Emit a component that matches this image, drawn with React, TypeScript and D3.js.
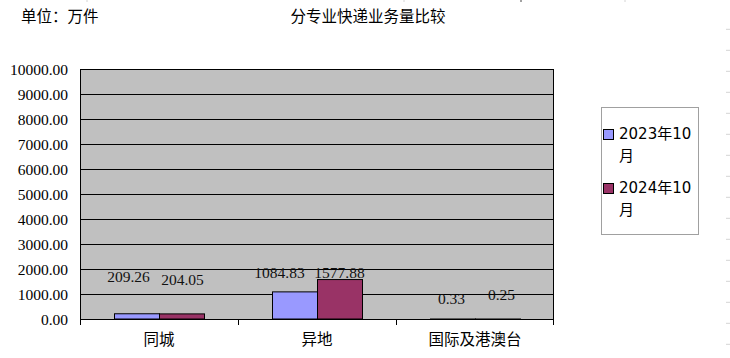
import React from "react";
import * as d3 from "d3";

const categories = ["同城", "异地", "国际及港澳台"];
const seriesNames = ["2023年10月", "2024年10月"];
const values2023 = [209.26, 1084.83, 0.33];
const values2024 = [204.05, 1577.88, 0.25];
const seriesColors = ["#9999FF", "#993366"];
const yTicks = [0, 1000, 2000, 3000, 4000, 5000, 6000, 7000, 8000, 9000, 10000];
// manual label nudges (dx, dy) relative to each bar's top-centre, as in the source sheet
const labelOffsets2023 = [[-8, -37], [-15, -19], [-1, -20]];
const labelOffsets2024 = [[1, -34], [0, -7], [4, -24]];

const W = 730, H = 358;
const plot = { left: 80, top: 69, right: 554, bottom: 319 };
const serif = "'Liberation Serif', 'Times New Roman', serif";
const cjk = "'Noto Sans CJK SC', sans-serif";

export default function App() {
  const x = d3.scaleBand<string>().domain(categories).range([plot.left, plot.right]).paddingInner(0).paddingOuter(0);
  const y = d3.scaleLinear().domain([0, 10000]).range([plot.bottom, plot.top]);
  const barW = 45;
  const series = [values2023, values2024];
  const offsets = [labelOffsets2023, labelOffsets2024];
  const rowLines = d3.range(16).map((i) => 29.3 + i * 21);

  return (
    <svg width={W} height={H} style={{ position: "absolute", left: 0, top: 0, background: "#fff" }}>
      <style>{"body{margin:0}"}</style>
      {rowLines.map((ry, i) => (
        <line key={"r" + i} x1={726} x2={730} y1={ry} y2={ry} stroke="#d4d4d4" />
      ))}
      {[87, 404, 625].map((tx, i) => (
        <line key={"t" + i} x1={tx} x2={tx} y1={0} y2={2} stroke="#d4d4d4" />
      ))}
      <line x1={521} x2={521} y1={0} y2={2} stroke="#444" />
      <text x={21} y={15} fontFamily={cjk} fontSize={15.5} dominantBaseline="central" fill="#000">单位：万件</text>
      <text x={368} y={15} fontFamily={cjk} fontSize={15.5} textAnchor="middle" dominantBaseline="central" fill="#000">分专业快递业务量比较</text>

      <rect x={plot.left} y={plot.top} width={plot.right - plot.left} height={plot.bottom - plot.top} fill="#C0C0C0" />
      {yTicks.map((t) => (
        <g key={t}>
          <line x1={plot.left} x2={plot.right} y1={Math.round(y(t)) + 0.5} y2={Math.round(y(t)) + 0.5} stroke="#000" strokeWidth={1} />
          <text x={68} y={y(t)} textAnchor="end" dominantBaseline="central" fontFamily={serif} fontSize={15.5} fill="#000">
            {t.toFixed(2)}
          </text>
        </g>
      ))}
      <rect x={plot.left + 0.5} y={plot.top + 0.5} width={plot.right - plot.left - 1} height={plot.bottom - plot.top} fill="none" stroke="#000" />
      {categories.map((c, i) => (
        <line key={"ct" + i} x1={x(c)! + 0.5} x2={x(c)! + 0.5} y1={plot.bottom} y2={plot.bottom + 6} stroke="#000" />
      ))}
      <line x1={plot.right - 0.5} x2={plot.right - 0.5} y1={plot.bottom} y2={plot.bottom + 6} stroke="#000" />

      {categories.map((c, ci) => {
        const cx = x(c)! + x.bandwidth() / 2;
        return series.map((vals, si) => {
          const bx = cx - barW + si * barW;
          const top = y(vals[ci]);
          const h = Math.max(plot.bottom - top, 0);
          return (
            <g key={c + si}>
              <rect x={bx + 0.5} y={top} width={barW} height={h} fill={seriesColors[si]} stroke="#000" strokeWidth={1} />
              <text
                x={bx + barW / 2 + offsets[si][ci][0]}
                y={top + offsets[si][ci][1]}
                textAnchor="middle"
                dominantBaseline="central"
                fontFamily={serif}
                fontSize={15.5}
                fill="#111"
              >
                {vals[ci].toFixed(2)}
              </text>
            </g>
          );
        });
      })}

      {categories.map((c) => (
        <text key={"cl" + c} x={x(c)! + x.bandwidth() / 2} y={338} textAnchor="middle" dominantBaseline="central" fontFamily={cjk} fontSize={15.5} fill="#000">
          {c}
        </text>
      ))}

      <rect x={601.5} y={107.5} width={97} height={127} fill="#fff" stroke="#a0a0a0" />
      {seriesNames.map((n, i) => {
        const ly = 134 + i * 54;
        return (
          <g key={n}>
            <rect x={603.5} y={ly - 4.5} width={10} height={10} fill={seriesColors[i]} stroke="#000" />
            <text x={619} y={ly} dominantBaseline="central" fontFamily="'DejaVu Sans', 'Noto Sans CJK SC', sans-serif" fontSize={15} fill="#000">
              {n.slice(0, n.length - 1)}
            </text>
            <text x={619} y={ly + 20} dominantBaseline="central" fontFamily={cjk} fontSize={15} fill="#000">
              {n.slice(n.length - 1)}
            </text>
          </g>
        );
      })}
    </svg>
  );
}
